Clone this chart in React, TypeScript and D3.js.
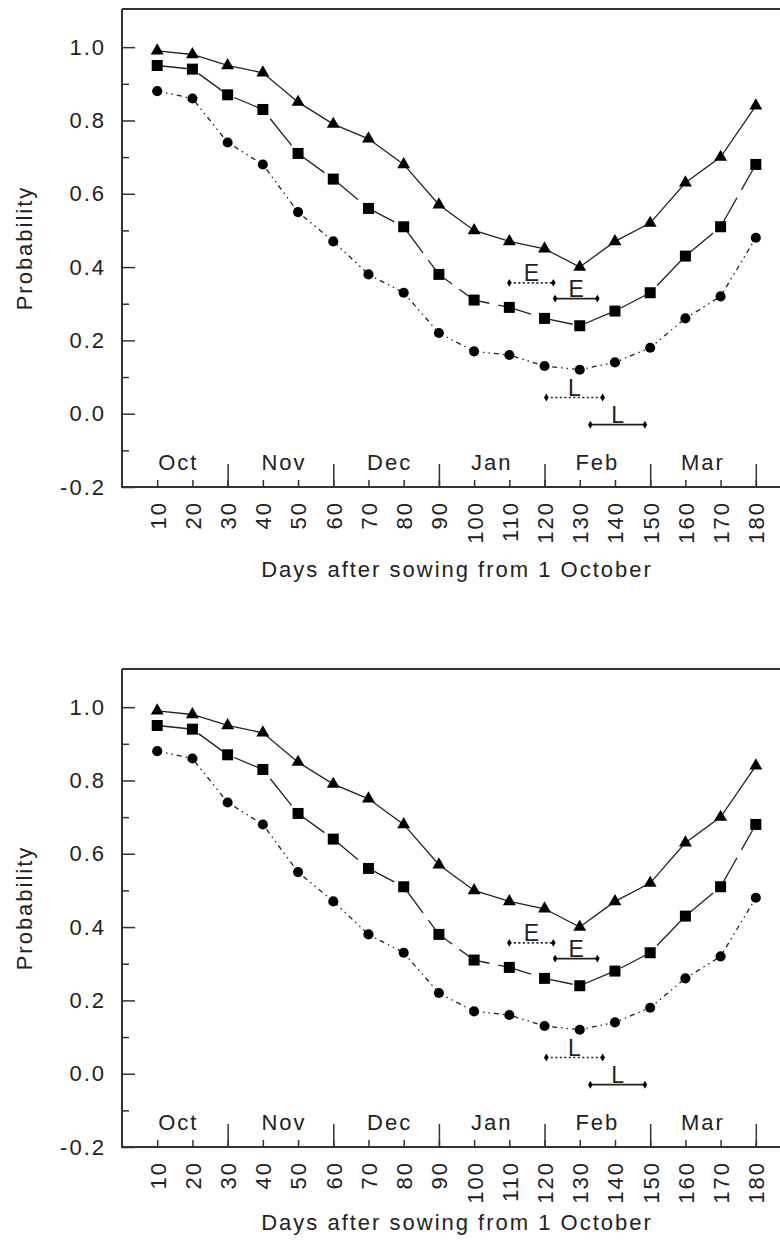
import React, { useEffect, useRef } from 'react';
import * as d3 from 'd3';

// days after sowing (x categories)
const days = [10, 20, 30, 40, 50, 60, 70, 80, 90, 100, 110, 120, 130, 140, 150, 160, 170, 180];

// three probability curves
const triangleValues = [0.99, 0.98, 0.95, 0.93, 0.85, 0.79, 0.75, 0.68, 0.57, 0.50, 0.47, 0.45, 0.40, 0.47, 0.52, 0.63, 0.70, 0.84];
const squareValues = [0.95, 0.94, 0.87, 0.83, 0.71, 0.64, 0.56, 0.51, 0.38, 0.31, 0.29, 0.26, 0.24, 0.28, 0.33, 0.43, 0.51, 0.68];
const circleValues = [0.88, 0.86, 0.74, 0.68, 0.55, 0.47, 0.38, 0.33, 0.22, 0.17, 0.16, 0.13, 0.12, 0.14, 0.18, 0.26, 0.32, 0.48];

// month bands
const months = ['Oct', 'Nov', 'Dec', 'Jan', 'Feb', 'Mar'];
const monthMid = [16, 46, 76, 105, 135, 165];
const monthBounds = [30, 60, 90, 120, 150, 180];

// y ticks
const yMajor = [-0.2, 0.0, 0.2, 0.4, 0.6, 0.8, 1.0];
const yMinor = [-0.1, 0.1, 0.3, 0.5, 0.7, 0.9];

// E / L range bars (early / late)
const rangeLabels = ['E', 'E', 'L', 'L'];
const rangeStart = [110, 123, 120.5, 133];
const rangeEnd = [122.5, 135, 136.5, 148.5];
const rangeValue = [0.357, 0.314, 0.044, -0.03];
const rangeDotted = [true, false, true, false];

const FONT = "'Liberation Sans', Arial, sans-serif";
const INK = '#222';

function drawPanel(g: d3.Selection<SVGGElement, unknown, null, undefined>, titleY: number) {
    const x = d3.scaleLinear().domain([0, 186.3]).range([122, 778]);
    const y = d3.scaleLinear().domain([-0.2, 1.1]).range([487, 10.5]);

    // frame
    g.append('path')
        .attr('d', `M122,9 H780 M122,9 V487 H780`)
        .attr('fill', 'none')
        .attr('stroke', '#333')
        .attr('stroke-width', 2);

    // y axis (ticks pointing inward)
    const yAxis = g.append('g')
        .attr('transform', 'translate(122,0)')
        .call(d3.axisLeft(y).tickValues(yMajor).tickSize(-13).tickSizeOuter(0).tickPadding(16)
            .tickFormat(d => (+d).toFixed(1)));
    g.append('g')
        .attr('transform', 'translate(122,0)')
        .call(d3.axisLeft(y).tickValues(yMinor).tickSize(-7).tickSizeOuter(0).tickFormat(() => ''))
        .call(a => a.select('.domain').remove());
    yAxis.select('.domain').remove();

    // x axis: minor ticks every 10 days with rotated labels
    const xAxis = g.append('g')
        .attr('transform', 'translate(0,487)')
        .call(d3.axisBottom(x).tickValues(days).tickSize(-7).tickSizeOuter(0).tickFormat(d => String(d)));
    xAxis.select('.domain').remove();
    xAxis.selectAll('text')
        .attr('transform', 'rotate(-90)')
        .attr('x', -14)
        .attr('y', 0)
        .attr('dy', '0.36em')
        .style('text-anchor', 'end');

    // month boundary ticks
    g.append('g')
        .attr('transform', 'translate(0,487)')
        .call(d3.axisBottom(x).tickValues(monthBounds).tickSize(-23).tickSizeOuter(0).tickFormat(() => ''))
        .call(a => a.select('.domain').remove());

    g.selectAll('.tick line').attr('stroke', '#333').attr('stroke-width', 1.5);
    g.selectAll('.tick text')
        .attr('fill', INK)
        .style('font-family', FONT)
        .style('font-size', '22px')
        .style('letter-spacing', '2px');

    // month labels
    g.selectAll('.month')
        .data(months)
        .enter().append('text')
        .attr('class', 'month')
        .attr('x', (d, i) => x(monthMid[i]))
        .attr('y', 470)
        .attr('text-anchor', 'middle')
        .attr('fill', INK)
        .style('font-family', FONT)
        .style('font-size', '22px')
        .style('letter-spacing', '2px')
        .text(d => d);

    // axis titles
    g.append('text')
        .attr('x', 457)
        .attr('y', titleY)
        .attr('text-anchor', 'middle')
        .attr('fill', INK)
        .style('font-family', FONT)
        .style('font-size', '22px')
        .style('letter-spacing', '2px')
        .text('Days after sowing from 1 October');

    g.append('text')
        .attr('transform', 'translate(24,248) rotate(-90)')
        .attr('text-anchor', 'middle')
        .attr('dy', '0.35em')
        .attr('fill', INK)
        .style('font-family', FONT)
        .style('font-size', '22px')
        .style('letter-spacing', '2px')
        .text('Probability');

    // series
    const series = [
        { values: squareValues, dash: '34,9', symbol: d3.symbolSquare, size: 121 },
        { values: circleValues, dash: '5,4,1.5,4,1.5,4', symbol: d3.symbolCircle, size: 80 },
        { values: triangleValues, dash: null, symbol: d3.symbolTriangle, size: 72 },
    ];
    const line = d3.line<number>()
        .x((d, i) => x(days[i]))
        .y(d => y(d));

    series.forEach(s => {
        g.append('path')
            .datum(s.values)
            .attr('d', line)
            .attr('fill', 'none')
            .attr('stroke', INK)
            .attr('stroke-width', 1.3)
            .attr('stroke-dasharray', s.dash);
        g.selectAll(null)
            .data(s.values)
            .enter().append('path')
            .attr('transform', (d, i) => `translate(${x(days[i])},${y(d)})`)
            .attr('d', d3.symbol().type(s.symbol).size(s.size)())
            .attr('fill', '#000');
    });

    // E / L range bars
    rangeLabels.forEach((lab, i) => {
        const x0 = x(rangeStart[i]);
        const x1 = x(rangeEnd[i]);
        const yy = y(rangeValue[i]);
        g.append('line')
            .attr('x1', x0).attr('x2', x1)
            .attr('y1', yy).attr('y2', yy)
            .attr('stroke', INK)
            .attr('stroke-width', rangeDotted[i] ? 1.6 : 1.8)
            .attr('stroke-dasharray', rangeDotted[i] ? '2,2.5' : null);
        [x0, x1].forEach(px => {
            g.append('path')
                .attr('transform', `translate(${px},${yy})`)
                .attr('d', d3.symbol().type(d3.symbolDiamond).size(18)())
                .attr('fill', '#000');
        });
        g.append('text')
            .attr('x', (x0 + x1) / 2)
            .attr('y', yy - 2)
            .attr('text-anchor', 'middle')
            .attr('fill', INK)
            .style('font-family', FONT)
            .style('font-size', '23px')
            .text(lab);
    });
}

const App = () => {
    const svgRef = useRef<SVGSVGElement>(null);

    useEffect(() => {
        const svg = d3.select(svgRef.current);
        svg.selectAll('*').remove();

        svg.append('rect').attr('width', 780).attr('height', 1243).attr('fill', '#fff');
        drawPanel(svg.append('g'), 577);
        drawPanel(svg.append('g').attr('transform', 'translate(0,660)'), 570);
    }, []);

    return (
        <svg ref={svgRef} width={780} height={1243}
            style={{ position: 'absolute', left: 0, top: 0, display: 'block' }}></svg>
    );
};

export default App;
